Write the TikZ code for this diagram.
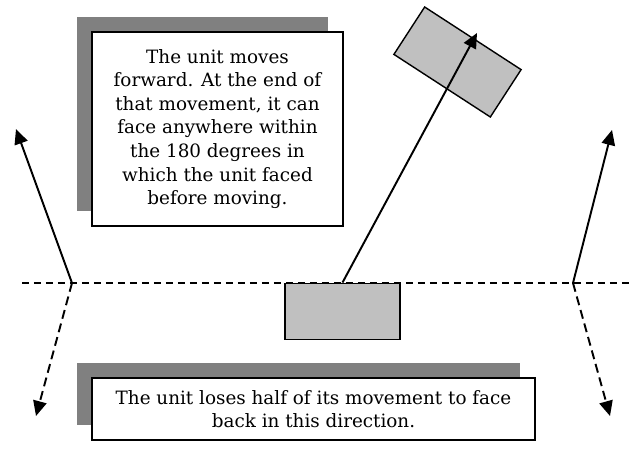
\documentclass[tikz,border=0pt]{standalone}
\usepackage{fontspec}
\setmainfont{DejaVu Serif}
\usetikzlibrary{arrows.meta,positioning,shadows}
\definecolor{unitgrey}{RGB}{192,192,192}
\definecolor{shadowgrey}{RGB}{128,128,128}

\begin{document}
\begin{tikzpicture}[x=0.02cm, y=-0.02cm,
    unit/.style={rectangle, draw=black, line width=0.8pt, fill=unitgrey,
        minimum width=2.3cm, minimum height=1.13cm, inner sep=0pt},
    note/.style={rectangle, draw=black, line width=0.8pt, fill=white,
        font=\fontsize{10.45}{13.4}\selectfont, align=center, inner sep=0pt,
        drop shadow={shadow xshift=-0.3cm, shadow yshift=0.3cm,
            fill=shadowgrey, opacity=1}},
    arr/.style={-{Triangle[length=0.3cm, width=0.27cm]}, line width=1.1pt},
    backarr/.style={arr, dash pattern=on 0.18cm off 0.1cm},
    guide/.style={dash pattern=on 0.14cm off 0.1cm, line width=0.7pt}
]
    \useasboundingbox (0,0) rectangle (635,456);

    % pivots and ends of the facing line
    \coordinate (lineL) at (22,283);
    \coordinate (lineR) at (632,283);
    \coordinate (pivotL) at (72,283);
    \coordinate (pivotR) at (573,283);
    \coordinate (frontL) at (16,129);
    \coordinate (backL) at (36,416);
    \coordinate (frontR) at (612,130);
    \coordinate (backR) at (610,416);
    \coordinate (moveTip) at (477,33);

    \draw[guide] (lineL) -- (lineR);

    \node[note, minimum width=5.02cm, minimum height=3.88cm] (forwardNote) at (217.5,129)
        {The unit moves\\ forward. At the end of\\ that movement, it can\\
         face anywhere within\\ the 180 degrees in\\ which the unit faced\\ before moving.};
    \node[note, minimum width=8.86cm, minimum height=1.24cm] (backNote) at (313.5,409)
        {The unit loses half of its movement to face\\ back in this direction.};

    \node[unit] (start) at (342.5,311.5) {};
    \node[unit, rotate=-33] (finish) at (457.5,62) {};

    \draw[arr] (start.north) -- (moveTip);
    \draw[arr] (pivotL) -- (frontL);
    \draw[backarr] (pivotL) -- (backL);
    \draw[arr] (pivotR) -- (frontR);
    \draw[backarr] (pivotR) -- (backR);
\end{tikzpicture}
\end{document}
